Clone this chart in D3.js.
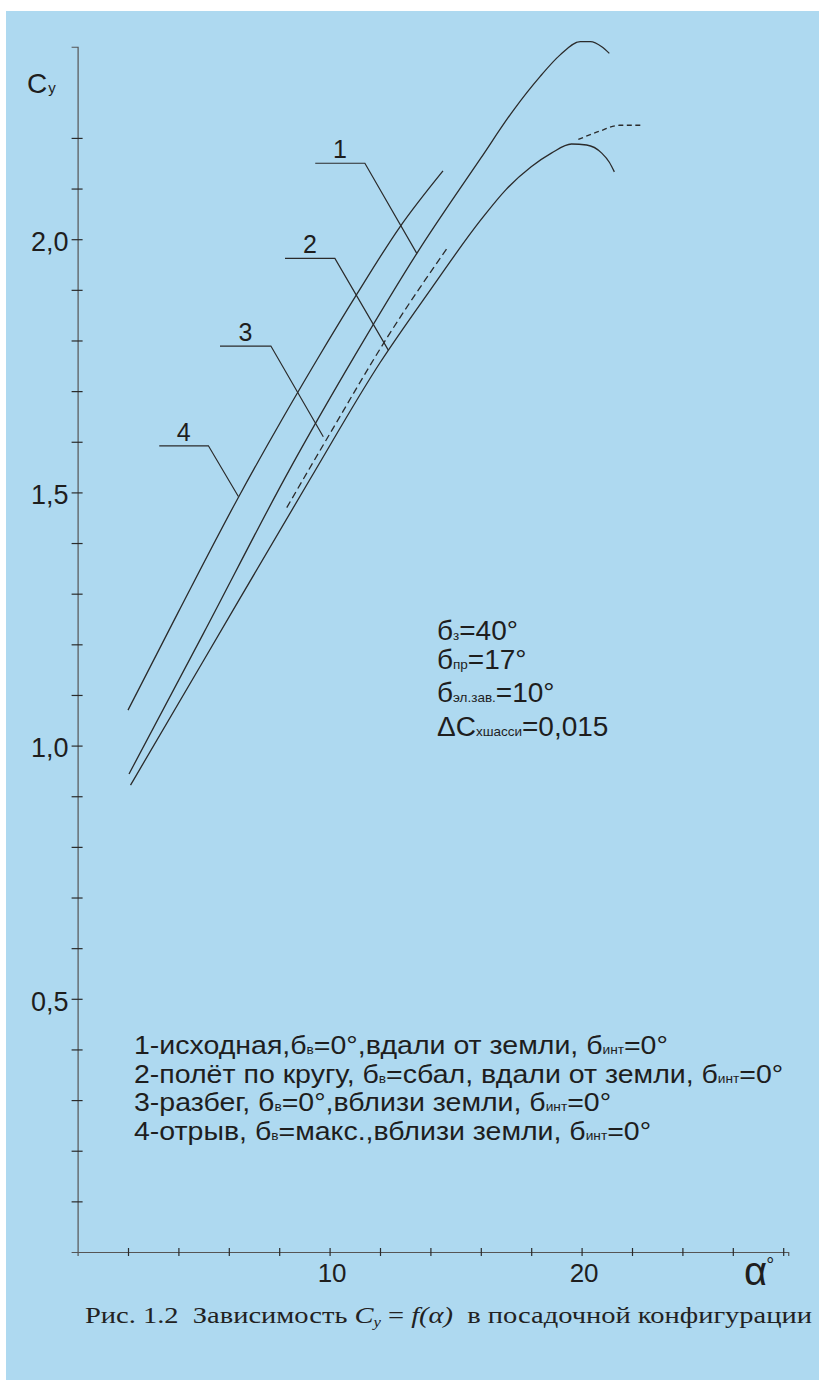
<!DOCTYPE html>
<html>
<head>
<meta charset="utf-8">
<script src="https://cdn.jsdelivr.net/npm/d3@7"></script>
<style>
body { margin: 0; background: #fff; }
svg { display: block; }
text { font-family: "Liberation Sans", Arial, sans-serif; fill: #1e1e1e; }
</style>
</head>
<body>
<div id="chart"></div>
<script>
// curve 1 - исходная
var alpha1 = [2.04, 5, 8.4, 11, 13.5, 16, 17.3, 18.35, 19.15, 19.95, 20.35, 20.8, 21.1],
    cy1 = [0.944, 1.222, 1.544, 1.77, 1.975, 2.16, 2.255, 2.321, 2.364, 2.39, 2.39, 2.38, 2.367];

// curve 2 - полёт по кругу
var alpha2 = [2.1, 5, 9.2, 12, 14, 16, 17, 18, 18.8, 19.6, 20.2, 20.8, 21.1, 21.3],
    cy2 = [0.922, 1.168, 1.524, 1.756, 1.9, 2.038, 2.098, 2.143, 2.17, 2.188, 2.186, 2.17, 2.152, 2.133];

// curve 3 - разбег (dashed, two pieces)
var alpha3a = [8.3, 10, 12.3, 14.7],
    cy3a = [1.47, 1.615, 1.807, 1.985],
    alpha3b = [19.87, 20.7, 21.5, 22.45],
    cy3b = [2.197, 2.213, 2.225, 2.225];

// curve 4 - отрыв
var alpha4 = [2.0, 4, 6.4, 8.1, 9.5, 11.1, 12.8, 14.5],
    cy4 = [1.07, 1.264, 1.492, 1.643, 1.762, 1.893, 2.025, 2.135];

var yTicks = d3.range(1, 23).map(function (i) { return i / 10; }),
    xTicks = d3.range(2, 29, 2),
    xLabels = [10, 20];

// leader callouts: label, start of shelf, bend, point on curve (alpha, Cy)
var leaderLabels = ["1", "2", "3", "4"],
    leaderStart = [[9.43, 2.150], [8.23, 1.962], [5.65, 1.789], [3.24, 1.592]],
    leaderBend = [[11.40, 2.150], [10.21, 1.962], [7.67, 1.789], [5.19, 1.592]],
    leaderEnd = [[13.46, 1.972], [12.33, 1.781], [9.75, 1.610], [6.38, 1.492]];

var paramLines = [
    [["б", 0], ["з", 1], ["=40°", 0]],
    [["б", 0], ["пр", 1], ["=17°", 0]],
    [["б", 0], ["эл.зав.", 1], ["=10°", 0]],
    [["ΔC", 0], ["хшасси", 1], ["=0,015", 0]]
];

var legendLines = [
    [["1-исходная,б", 0], ["в", 1], ["=0°,вдали от земли, б", 0], ["инт", 1], ["=0°", 0]],
    [["2-полёт по кругу, б", 0], ["в", 1], ["=сбал, вдали от земли, б", 0], ["инт", 1], ["=0°", 0]],
    [["3-разбег, б", 0], ["в", 1], ["=0°,вблизи земли, б", 0], ["инт", 1], ["=0°", 0]],
    [["4-отрыв, б", 0], ["в", 1], ["=макс.,вблизи земли, б", 0], ["инт", 1], ["=0°", 0]]
];

var width = 819,
    height = 1380,
    ink = "#2b2b2b";

var svg = d3.select("#chart").append("svg")
    .attr("width", width)
    .attr("height", height);

svg.append("rect")
    .attr("x", 6).attr("y", 11)
    .attr("width", width - 6).attr("height", height - 11)
    .attr("fill", "#aed9f0");

var x = d3.scaleLinear().domain([0, 28.2]).range([77.6, 77.6 + 28.2 * 25.2]),
    y = d3.scaleLinear().domain([0, 2.38]).range([1252, 1252 - 2.38 * 506.4]);

// y axis, ticks cross the line
var yAxis = svg.append("g")
    .attr("transform", "translate(" + x(0) + ",0)")
    .call(d3.axisLeft(y)
        .tickValues(yTicks)
        .tickSizeOuter(0)
        .tickSize(6)
        .tickPadding(10)
        .tickFormat(function (d) {
            return Math.abs(d * 2 - Math.round(d * 2)) < 1e-9 ? d3.format(".1f")(d).replace(".", ",") : "";
        }));

yAxis.select(".domain").attr("stroke", "#555").attr("stroke-width", 1.2);
yAxis.selectAll(".tick line").attr("x1", -6).attr("x2", 5).attr("stroke", ink).attr("stroke-width", 1.2);
yAxis.selectAll(".tick text")
    .attr("x", -9)
    .attr("dy", "0.42em")
    .style("font-size", "27px")
    .style("fill", "#1e1e1e");

// x axis
var xAxis = svg.append("g")
    .attr("transform", "translate(0," + y(0) + ")")
    .call(d3.axisBottom(x)
        .tickValues(xTicks)
        .tickSizeOuter(0)
        .tickSize(4)
        .tickFormat(function (d) { return xLabels.indexOf(d) >= 0 ? d : ""; }));

xAxis.select(".domain").attr("stroke", "#555").attr("stroke-width", 1.2);
xAxis.selectAll(".tick line").attr("y1", -4).attr("y2", 4).attr("stroke", ink).attr("stroke-width", 1.2);
xAxis.selectAll(".tick text")
    .attr("x", 2)
    .attr("y", 30)
    .attr("dy", 0)
    .style("font-size", "26px")
    .style("fill", "#1e1e1e");

// axis titles
var cyLabel = svg.append("text").attr("x", 27).attr("y", 93).style("font-size", "28px");
cyLabel.append("tspan").text("C");
cyLabel.append("tspan").text("у").style("font-size", "15px").attr("dx", 1);

var aLabel = svg.append("text").attr("x", 744).attr("y", 1285).style("font-size", "40px");
aLabel.append("tspan").text("α");
aLabel.append("tspan").text("°").style("font-size", "20px").attr("dx", -1).attr("dy", -13);

// curves
var line = d3.line()
    .x(function (d) { return x(d[0]); })
    .y(function (d) { return y(d[1]); })
    .curve(d3.curveMonotoneX);

function pairs(a, c) { return a.map(function (v, i) { return [v, c[i]]; }); }

var curves = [
    { pts: pairs(alpha1, cy1), dash: null },
    { pts: pairs(alpha2, cy2), dash: null },
    { pts: pairs(alpha3a, cy3a), dash: "7,4" },
    { pts: pairs(alpha3b, cy3b), dash: "5,3.5" },
    { pts: pairs(alpha4, cy4), dash: null }
];

svg.append("g").selectAll("path")
    .data(curves)
    .join("path")
    .attr("d", function (d) { return line(d.pts); })
    .attr("fill", "none")
    .attr("stroke", ink)
    .attr("stroke-width", 1.3)
    .attr("stroke-dasharray", function (d) { return d.dash; });

// leaders
var leaders = svg.append("g");
leaderLabels.forEach(function (lab, i) {
    var p = [leaderStart[i], leaderBend[i], leaderEnd[i]];
    leaders.append("path")
        .attr("d", d3.line().x(function (d) { return x(d[0]); }).y(function (d) { return y(d[1]); })(p))
        .attr("fill", "none")
        .attr("stroke", ink)
        .attr("stroke-width", 1.2);
    leaders.append("text")
        .attr("x", (x(leaderStart[i][0]) + x(leaderBend[i][0])) / 2)
        .attr("y", y(leaderStart[i][1]) - 5)
        .attr("text-anchor", "middle")
        .style("font-size", "25px")
        .text(lab);
});

// text blocks with small subscripts; measured at natSize, drawn at size and stretched back
function richText(g, lines, x0, ys, size, subSize, natSize) {
    lines.forEach(function (parts, i) {
        var t = g.append("text").attr("x", x0).attr("y", ys[i]);
        parts.forEach(function (p) {
            t.append("tspan").attr("class", p[1] ? "sub" : "main").text(p[0]);
        });
        if (natSize) {
            t.selectAll("tspan.main").style("font-size", natSize + "px");
            t.selectAll("tspan.sub").style("font-size", subSize * natSize / size + "px");
            var len = t.node().getComputedTextLength();
            t.attr("textLength", len).attr("lengthAdjust", "spacingAndGlyphs");
        }
        t.selectAll("tspan.main").style("font-size", size + "px");
        t.selectAll("tspan.sub").style("font-size", subSize + "px");
    });
}

richText(svg.append("g"), paramLines, 437, [640, 669, 702, 736], 27, 13, 28);
richText(svg.append("g"), legendLines, 134, [1054, 1082.5, 1111, 1139.5], 25, 12, 28.5);

// caption
var cap = svg.append("text")
    .attr("x", 85).attr("y", 1323)
    .attr("textLength", 727)
    .attr("lengthAdjust", "spacingAndGlyphs")
    .style("font-family", "'Liberation Serif', 'Times New Roman', serif")
    .style("font-size", "24px")
    .style("fill", "#222");
cap.append("tspan").text("Рис. 1.2\u00a0\u00a0Зависимость ");
cap.append("tspan").text("C").style("font-style", "italic");
cap.append("tspan").text("y").style("font-style", "italic").style("font-size", "14px").attr("dy", 4);
cap.append("tspan").text(" = ").attr("dy", -4);
cap.append("tspan").text("f(α)").style("font-style", "italic");
cap.append("tspan").text("\u00a0\u00a0в посадочной конфигурации");
</script>
</body>
</html>
